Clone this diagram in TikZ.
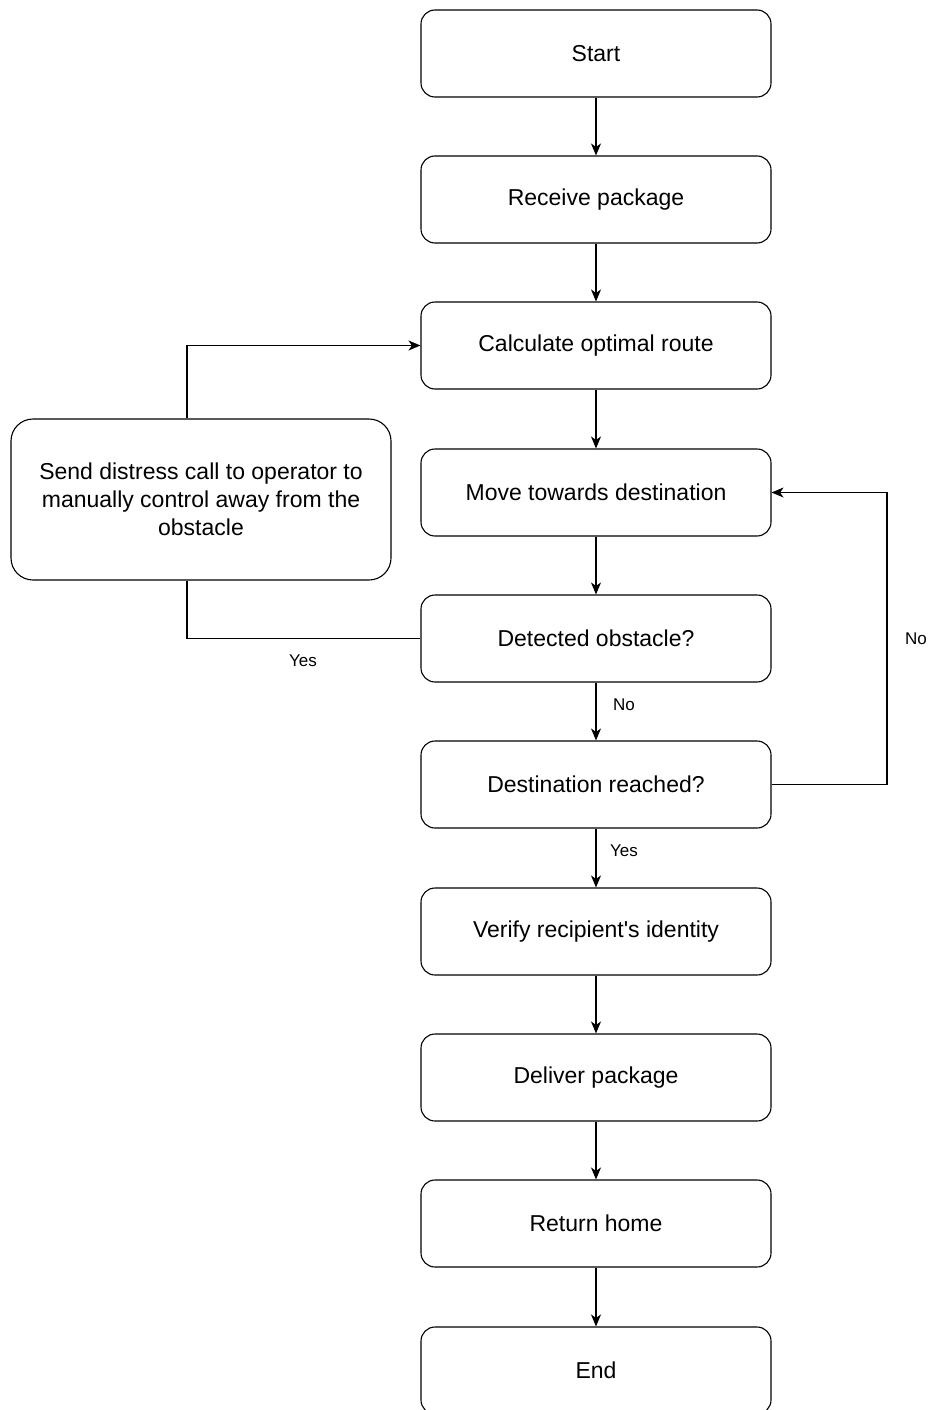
\documentclass[tikz,border=0pt]{standalone}
\usepackage{fontspec}
\setmainfont{Liberation Sans}
\usetikzlibrary{arrows.meta}
\begin{document}
\begin{tikzpicture}[x=1pt,y=-1pt,
  stepbox/.style={draw, rounded corners=14pt, line width=1.1pt, minimum width=350pt, minimum height=87pt, inner sep=0pt, font=\fontsize{23}{28}\selectfont, align=center},
  conn/.style={line width=1.1pt, -{Stealth[length=12pt,width=10pt,inset=3.5pt]}},
  plain/.style={line width=1.1pt},
  lbl/.style={font=\fontsize{17}{20}\selectfont, inner sep=0pt}]
\useasboundingbox (0,0) rectangle (927,1410);
\node[stepbox] (start) at (596,53.5) {Start};
\node[stepbox] (recv) at (596,199.5) {Receive package};
\node[stepbox] (calc) at (596,345.5) {Calculate optimal route};
\node[stepbox] (move) at (596,492.5) {Move towards destination};
\node[stepbox] (det) at (596,638.5) {Detected obstacle?};
\node[stepbox] (dest) at (596,784.5) {Destination reached?};
\node[stepbox] (ver) at (596,931.5) {Verify recipient\textquotesingle s identity};
\node[stepbox] (del) at (596,1077.5) {Deliver package};
\node[stepbox] (ret) at (596,1223.5) {Return home};
\node[stepbox] (end) at (596,1370.5) {End};
\node[stepbox, minimum width=380pt, minimum height=161pt, rounded corners=22pt] (sos) at (201,499.5) {Send distress call to operator to\\manually control away from the\\obstacle};
\draw[conn] (start) -- (recv);
\draw[conn] (recv) -- (calc);
\draw[conn] (calc) -- (move);
\draw[conn] (move) -- (det);
\draw[conn] (det) -- (dest);
\draw[conn] (dest) -- (ver);
\draw[conn] (ver) -- (del);
\draw[conn] (del) -- (ret);
\draw[conn] (ret) -- (end);
\draw[conn] (sos.north -| 187,0) |- (calc.west);
\draw[plain] (det.west) -| (187,0 |- sos.south);
\coordinate (rb) at (887,0);
\draw[conn] (dest.east) -| (rb |- move.east) -- (move.east);
\node[lbl] (yes1) at (303,661) {Yes};
\node[lbl] (no1) at (624,705) {No};
\node[lbl] (no2) at (916,639) {No};
\node[lbl] (yes2) at (624,851) {Yes};
\end{tikzpicture}
\end{document}
